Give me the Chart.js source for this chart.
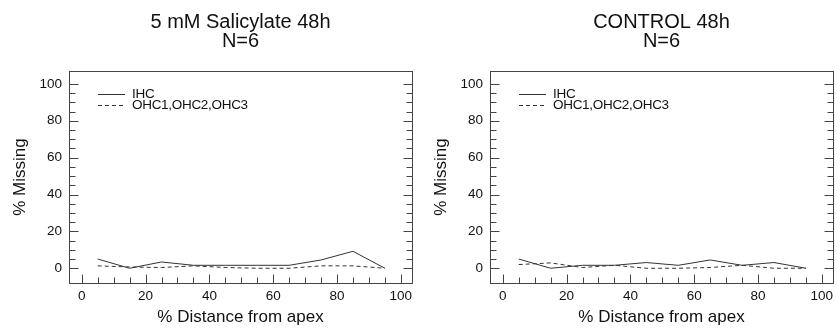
<!DOCTYPE html>
<html><head><meta charset="utf-8">
<script src="https://cdn.jsdelivr.net/npm/chart.js@4/dist/chart.umd.min.js"></script>
<style>
html,body{margin:0;padding:0;background:#fff;}
#wrap{position:relative;width:837px;height:335px;overflow:hidden;}
.box{position:absolute;top:0;width:420px;height:335px;}
</style></head><body>
<div id="wrap">
<div class="box" style="left:0"><canvas id="c1" width="420" height="335"></canvas></div>
<div class="box" style="left:421px"><canvas id="c2" width="420" height="335"></canvas></div>
</div>
<script>
const positions = [5, 15, 25, 35, 45, 55, 65, 75, 85, 95];
const salIHC = [5, 0, 3.4, 1.6, 1.6, 1.6, 1.6, 4.5, 9.2, 0];
const salOHC = [1.3, 0.7, 0.4, 1.3, 0.4, 0, 0, 1.3, 1.3, 0];
const ctlIHC = [5, 0, 1.6, 1.6, 3.1, 1.6, 4.5, 1.6, 3.1, 0];
const ctlOHC = [2.0, 2.9, 0.4, 1.6, 0, 0, 0.4, 1.6, 0, 0];
const xTickLabels = [0, 20, 40, 60, 80, 100];
const yTickLabels = [0, 20, 40, 60, 80, 100];
const seriesNames = ['IHC', 'OHC1,OHC2,OHC3'];
const titleSal = ['5 mM Salicylate 48h', 'N=6'];
const titleCtl = ['CONTROL 48h', 'N=6'];
const xTitle = '% Distance from apex';
const yTitle = '% Missing';

const FONT = '"Liberation Sans", Arial, Helvetica, sans-serif';
Chart.defaults.font.family = FONT;
Chart.defaults.color = '#111';

function seg(ctx, x1, y1, x2, y2) { ctx.beginPath(); ctx.moveTo(x1, y1); ctx.lineTo(x2, y2); ctx.stroke(); }

const frame = {
  id: 'frame',
  afterDraw(chart, args, opts) {
    const { ctx, chartArea: a, scales: { x, y } } = chart;
    ctx.save();
    ctx.strokeStyle = '#444'; ctx.lineWidth = 1;
    const L = Math.round(a.left) + 0.5, R = Math.round(a.right) + 0.5, T = Math.round(a.top) + 0.5, B = Math.round(a.bottom) + 0.5;
    ctx.strokeRect(L, T, R - L, B - T);
    for (let v = 0; v <= 100; v += 5) {
      const len = v % 20 === 0 ? 9 : 6;
      const px = Math.round(x.getPixelForValue(v)) + 0.5;
      seg(ctx, px, B, px, B - len);
      const py = Math.round(y.getPixelForValue(v)) + 0.5;
      seg(ctx, L, py, L + len, py);
      seg(ctx, R, py, R - len, py);
    }
    ctx.font = '13.5px ' + FONT; ctx.textBaseline = 'middle'; ctx.textAlign = 'left';
    if ('letterSpacing' in ctx) ctx.letterSpacing = '-0.3px';
    chart.data.datasets.forEach((ds, i) => {
      const ly = Math.round(a.top + 22.5 + i * 11.5) + 0.5;
      ctx.strokeStyle = ds.borderColor; ctx.lineWidth = 1;
      ctx.setLineDash(ds.borderDash || []);
      seg(ctx, a.left + 29, ly, a.left + 56, ly);
      ctx.setLineDash([]);
      ctx.fillStyle = '#111';
      ctx.fillText(ds.label, a.left + 63, ly);
    });
    if ('letterSpacing' in ctx) ctx.letterSpacing = '0px';
    ctx.textAlign = 'center'; ctx.textBaseline = 'alphabetic'; ctx.font = '20px ' + FONT; ctx.fillStyle = '#111';
    opts.lines.forEach((t, i) => ctx.fillText(t, (a.left + a.right) / 2, 27.5 + i * 19.5));
    ctx.restore();
  }
};

function make(id, ihc, ohc, title) {
  new Chart(document.getElementById(id), {
    type: 'line',
    data: {
      datasets: [
        { label: seriesNames[0], data: positions.map((p, i) => ({ x: p, y: ihc[i] })), borderColor: '#333', borderWidth: 1, pointRadius: 0, tension: 0, fill: false },
        { label: seriesNames[1], data: positions.map((p, i) => ({ x: p, y: ohc[i] })), borderColor: '#333', borderWidth: 1, borderDash: [4, 3], pointRadius: 0, tension: 0, fill: false }
      ]
    },
    options: {
      responsive: false, animation: false, devicePixelRatio: 1,
      layout: { padding: { top: 71, right: 8, left: 0, bottom: 0 } },
      plugins: { legend: { display: false }, title: { display: false }, tooltip: { enabled: false }, frame: { lines: title } },
      scales: {
        x: {
          type: 'linear', min: -4, max: 103.5,
          afterBuildTicks: s => { s.ticks = xTickLabels.map(v => ({ value: v })); },
          afterFit: s => { s.height = 52; },
          grid: { display: false, drawTicks: false }, border: { display: false },
          ticks: { padding: 5, font: { size: 13.5 }, color: '#111', maxRotation: 0, autoSkip: false },
          title: { display: true, text: xTitle, font: { size: 17 }, color: '#111', padding: { top: 0, bottom: 7 } }
        },
        y: {
          type: 'linear', min: -8, max: 107,
          afterBuildTicks: s => { s.ticks = yTickLabels.map(v => ({ value: v })); },
          afterFit: s => { s.width = 69; },
          grid: { display: false, drawTicks: false }, border: { display: false },
          ticks: { padding: 7, font: { size: 13.5 }, color: '#111', autoSkip: false },
          title: { display: true, text: yTitle, font: { size: 17 }, color: '#111', padding: { top: 10, bottom: 0 } }
        }
      }
    },
    plugins: [frame]
  });
}
make('c1', salIHC, salOHC, titleSal);
make('c2', ctlIHC, ctlOHC, titleCtl);
</script>
</body></html>
